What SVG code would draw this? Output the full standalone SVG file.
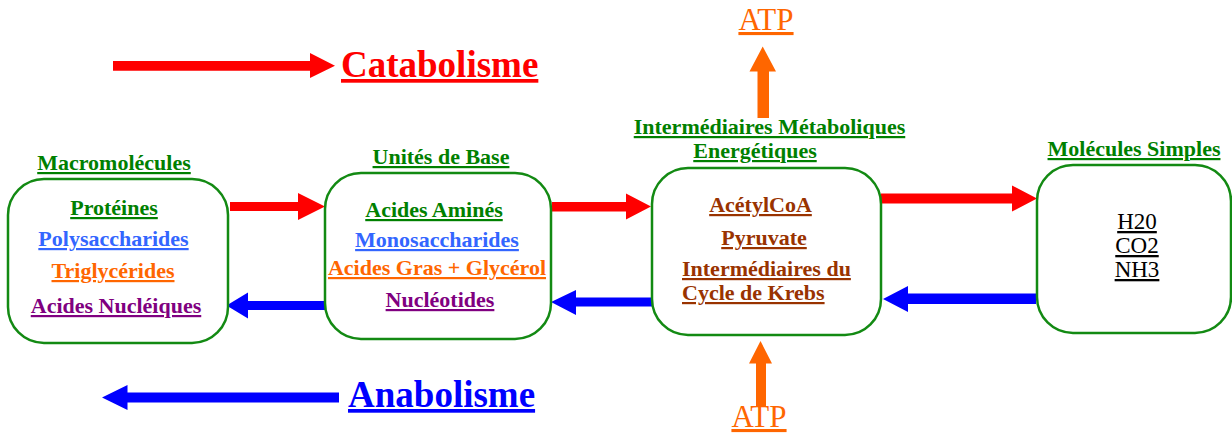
<svg xmlns="http://www.w3.org/2000/svg" width="1232" height="434" viewBox="0 0 1232 434">
<style>
text{font-family:"Liberation Serif","Times New Roman",serif;text-decoration:underline;}
.t{font-size:22px;font-weight:bold;text-anchor:middle;}
.g{fill:#008000;}
.bl{fill:#3366ff;}
.or{fill:#ff6600;}
.pu{fill:#800080;}
.br{fill:#993300;}
.k{fill:#000;font-weight:normal;font-size:23px;}
.box{fill:#fff;stroke:#138a13;stroke-width:2.5;}
.big{font-size:37px;font-weight:bold;}
.atp{font-size:31px;fill:#ff6600;text-anchor:middle;}
.red{fill:#ff0000;}
.blue{fill:#0000ff;}
.orange{fill:#ff6600;}
</style>
<rect width="1232" height="434" fill="#fff"/>
<g id="legend-catabolisme">
<polygon class="red" points="113,61 310,61 310,53 335,65.7 310,78 310,70.7 113,70.7"/>
<text class="big" x="341" y="77" fill="#ff0000">Catabolisme</text>
</g>
<g id="legend-anabolisme">
<polygon class="blue" points="339,392.5 127.5,392.5 127.5,385 102,397.5 127.5,410 127.5,402.5 339,402.5"/>
<text class="big" x="348" y="407" fill="#0000ff">Anabolisme</text>
</g>
<g id="connectors">
<polygon class="red" points="230,202 298,202 298,193 325,206.5 298,220 298,211 230,211"/>
<polygon class="blue" points="325,301 248,301 248,292.5 226.5,305.5 248,318.5 248,310 325,310"/>
<polygon class="red" points="552,202 626,202 626,193.5 651,206.5 626,219.5 626,211.5 552,211.5"/>
<polygon class="blue" points="652,297.5 576,297.5 576,290 551,302 576,315 576,306.5 652,306.5"/>
<polygon class="red" points="881,193.5 1012,193.5 1012,185.5 1037,198.5 1012,211.5 1012,203.5 881,203.5"/>
<polygon class="blue" points="1036,293.5 908,293.5 908,286 883,299 908,312 908,304 1036,304"/>
<polygon class="orange" points="757.5,118 757.5,71.5 749.5,71.5 762.7,46.5 776,71.5 769,71.5 769,118"/>
<polygon class="orange" points="756,406 756,363.5 749,363.5 760.5,341 772,363.5 766,363.5 766,406"/>
</g>
<g id="atp-top"><text class="atp" x="766" y="30">ATP</text></g>
<g id="atp-bottom"><text class="atp" x="759" y="427">ATP</text></g>
<g id="node-macromolecules">
<rect class="box" x="8" y="179" width="220" height="164" rx="36"/>
<text class="t g" x="114" y="170">Macromolécules</text>
<text class="t g" x="114" y="215">Protéines</text>
<text class="t bl" x="113.5" y="246">Polysaccharides</text>
<text class="t or" x="113" y="278">Triglycérides</text>
<text class="t pu" x="116" y="313">Acides Nucléiques</text>
</g>
<g id="node-unites">
<rect class="box" x="325" y="173" width="226" height="166" rx="36"/>
<text class="t g" x="441" y="164">Unités de Base</text>
<text class="t g" x="434" y="217">Acides Aminés</text>
<text class="t bl" x="437" y="247">Monosaccharides</text>
<text class="t or" x="437" y="275">Acides Gras + Glycérol</text>
<text class="t pu" x="440" y="307">Nucléotides</text>
</g>
<g id="node-intermediaires">
<rect class="box" x="652" y="168" width="229" height="167" rx="36"/>
<text class="t g" x="769.5" y="134">Intermédiaires Métaboliques</text>
<text class="t g" x="755" y="158">Energétiques</text>
<text class="t br" x="760.5" y="212">AcétylCoA</text>
<text class="t br" x="764" y="245">Pyruvate</text>
<text class="t br" x="682" y="276" style="text-anchor:start">Intermédiaires du</text>
<text class="t br" x="682" y="300" style="text-anchor:start">Cycle de Krebs</text>
</g>
<g id="node-molecules-simples">
<rect class="box" x="1037" y="165" width="194" height="168" rx="36"/>
<text class="t g" x="1134" y="156">Molécules Simples</text>
<text class="t k" x="1137" y="229">H20</text>
<text class="t k" x="1137" y="253">CO2</text>
<text class="t k" x="1137" y="277">NH3</text>
</g>
</svg>
